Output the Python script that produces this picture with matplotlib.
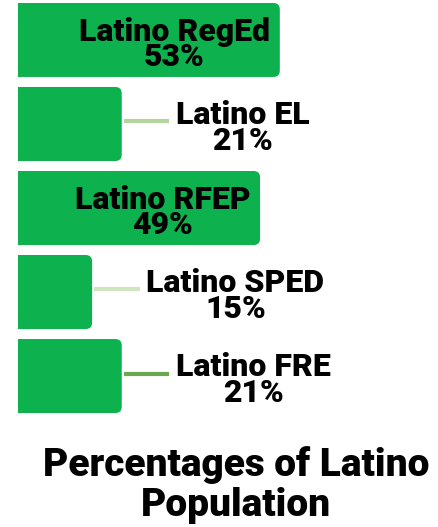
import matplotlib
matplotlib.use("Agg")
from matplotlib import pyplot as plt
from matplotlib.patches import FancyBboxPatch

categories = ["Latino RegEd", "Latino EL", "Latino RFEP", "Latino SPED", "Latino FRE"]
values = [53, 21, 49, 15, 21]
line_colors = [None, "#b4d69c", None, "#cfe5c0", "#6aa84f"]

BAR_COLOR = "#0db14d"
W, H, DPI = 439, 527, 100

plt.rcParams['font.family'] = ['Roboto', 'DejaVu Sans']

fig = plt.figure(figsize=(W / DPI, H / DPI), dpi=DPI)
# axes in pixel placement: bars start at x=18, span y 3..413
ax = fig.add_axes([18 / W, 114 / H, 421 / W, 410 / H])
ax.set_xlim(0, 421 / 4.94)
ax.set_ylim(4.44, -0.44)
ax.set_axis_off()

bar_h = 74 / 84
x_px = 4.94  # pixels per percent
y_px = 84.0
aspect = (1 / y_px) / (1 / x_px)

for i, (cat, v) in enumerate(zip(categories, values)):
    box = FancyBboxPatch((-3, i - bar_h / 2), v + 3, bar_h,
                         boxstyle="round,pad=0,rounding_size=1.3",
                         mutation_aspect=aspect, fc=BAR_COLOR, ec="none")
    ax.add_patch(box)
    label = "{}\n{}%".format(cat, v)
    if v >= 40:
        ax.text(v - 2, i + 0.055, label, ha="right", va="center",
                multialignment="center", fontsize=23, fontweight="black",
                linespacing=0.82)
    else:
        ax.plot([v + 0.4, v + 9.6], [i - 0.03, i - 0.03],
                color=line_colors[i], lw=3, solid_capstyle="butt")
        ax.text(v + 11, i + 0.05, label, ha="left", va="center",
                multialignment="center", fontsize=23, fontweight="black",
                linespacing=0.82)

fig.text(236 / W, 1 - 485 / H, "Percentages of Latino\nPopulation",
         ha="center", va="center", multialignment="center",
         fontsize=28, fontweight="black", linespacing=1.08)

fig.savefig("out.png", dpi=DPI)
